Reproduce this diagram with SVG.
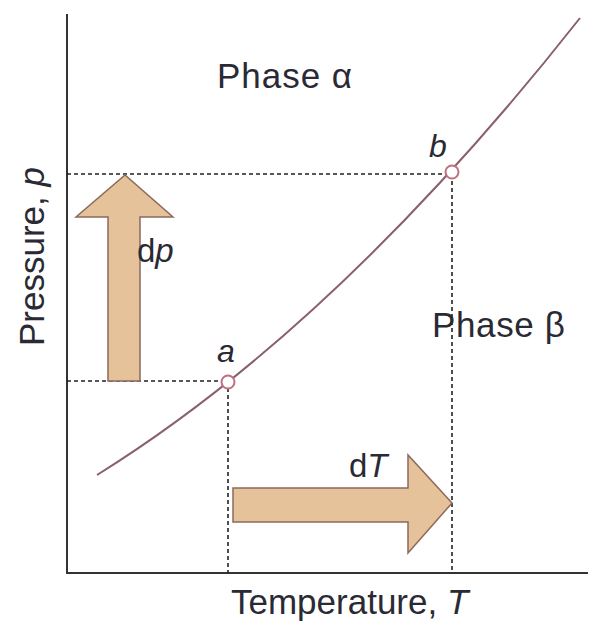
<svg xmlns="http://www.w3.org/2000/svg" width="590" height="623" viewBox="0 0 590 623">
<style>
text{font-family:"Liberation Sans",Arial,sans-serif;fill:#2a2a35}
.lbl{font-size:35px}
.it{font-style:italic}
.dash{stroke:#222;stroke-width:1.6;stroke-dasharray:4 3;fill:none}
.arrow{fill:#e6c29a;stroke:#8c6a5c;stroke-width:1.5;stroke-linejoin:miter}
.pt{fill:#fff;stroke:#c0707e;stroke-width:2}
</style>
<rect width="590" height="623" fill="#fff"/>
<g id="axes">
<path d="M67,14 V573 H588" fill="none" stroke="#333" stroke-width="2"/>
</g>
<g id="connectors">
<path class="dash" d="M67,174 H452 V573"/>
<path class="dash" d="M67,381 H228 V573"/>
<path id="curve" d="M97,475 Q338.5,324.8 580,18" fill="none" stroke="#8a5f6e" stroke-width="2"/>
</g>
<g id="arrow-dp">
<polygon class="arrow" points="108,381 140,381 140,217 173,217 125,175 76,217 108,217"/>
<text x="137" y="262" class="lbl" style="font-size:33px">d<tspan class="it">p</tspan></text>
</g>
<g id="arrow-dT">
<polygon class="arrow" points="233,488 408,488 408,455 452,503 408,553 408,522 233,522"/>
<text x="349" y="477" class="lbl" style="font-size:33px">d<tspan class="it">T</tspan></text>
</g>
<g id="point-a">
<circle class="pt" cx="228" cy="382" r="6.5"/>
<text x="217" y="362" class="lbl it" style="font-size:32px">a</text>
</g>
<g id="point-b">
<circle class="pt" cx="452" cy="172" r="6.5"/>
<text x="429" y="157" class="lbl it" style="font-size:32px">b</text>
</g>
<g id="phase-alpha"><text x="217" y="88" class="lbl" textLength="135" lengthAdjust="spacing">Phase α</text></g>
<g id="phase-beta"><text x="432" y="337" class="lbl" textLength="133" lengthAdjust="spacing">Phase β</text></g>
<g id="xlabel"><text x="231" y="614" class="lbl">Temperature, <tspan class="it">T</tspan></text></g>
<g id="ylabel"><text transform="translate(44,346) rotate(-90)" class="lbl">Pressure, <tspan class="it">p</tspan></text></g>
</svg>
